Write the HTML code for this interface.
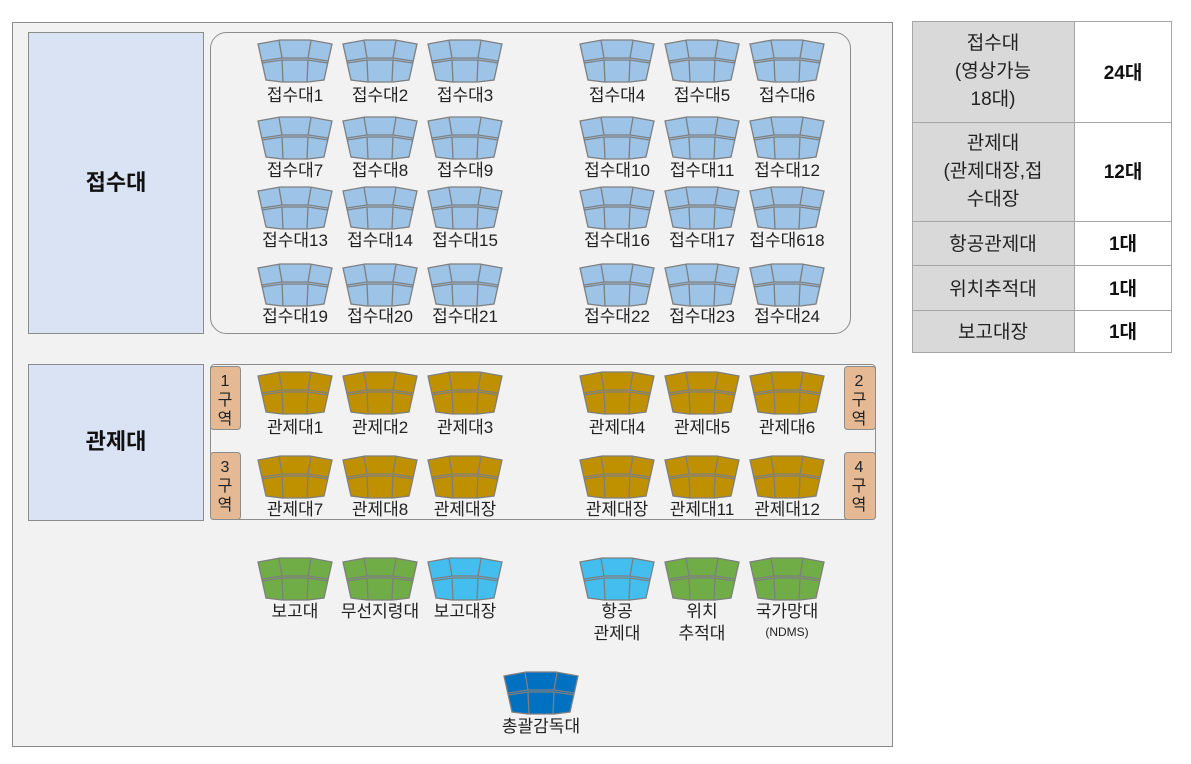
<!DOCTYPE html>
<html><head><meta charset="utf-8"><style>
html,body{margin:0;padding:0;background:#fff}
svg{display:block;font-family:"Liberation Sans","Noto Sans CJK KR",sans-serif}
text{fill:#222}
</style></head><body>
<svg width="1191" height="764" viewBox="0 0 1191 764">
<defs>
<g id="d" stroke="#7f7f7f" stroke-width="1.3">
<polygon points="0,4 22,0 52,0 74,4 66,40 50,42 24,42 8,40"/>
<polyline fill="none" points="4,21 24,18 50,18 70,21"/>
<polyline fill="none" points="4,23 24,20 50,20 70,23"/>
<line x1="21" y1="0.5" x2="24" y2="18"/><line x1="53" y1="0.5" x2="50" y2="18"/>
<line x1="24" y1="20" x2="25" y2="42"/><line x1="50" y1="20" x2="49" y2="42"/>
</g>
</defs>
<rect x="12.5" y="22.5" width="880" height="724" fill="#f2f2f2" stroke="#8c8c8c"/>
<rect x="28.5" y="32.5" width="175" height="301" fill="#dae3f3" stroke="#8c8c8c"/>
<rect x="28.5" y="364.5" width="175" height="156" fill="#dae3f3" stroke="#8c8c8c"/>
<text x="116" y="190" font-size="22" font-weight="bold" text-anchor="middle" style="fill:#111">접수대</text>
<text x="116" y="449" font-size="22" font-weight="bold" text-anchor="middle" style="fill:#111">관제대</text>
<rect x="210.5" y="32.5" width="640" height="301" rx="16" fill="#f2f2f2" stroke="#8c8c8c"/>
<rect x="210.5" y="364.5" width="665" height="155" rx="4" fill="#f2f2f2" stroke="#8c8c8c"/>
<g fill="#e4b993" stroke="#8c8c8c">
<rect x="210.5" y="366.5" width="30" height="63" rx="3"/><rect x="210.5" y="452.5" width="30" height="67" rx="3"/>
<rect x="844.5" y="366.5" width="31" height="63" rx="3"/><rect x="844.5" y="452.5" width="31" height="67" rx="3"/>
</g>
<g font-size="16" text-anchor="middle">
<text x="225" y="386">1</text><text x="225" y="405">구</text><text x="225" y="424">역</text>
<text x="225" y="472">3</text><text x="225" y="491">구</text><text x="225" y="510">역</text>
<text x="859" y="386">2</text><text x="859" y="405">구</text><text x="859" y="424">역</text>
<text x="859" y="472">4</text><text x="859" y="491">구</text><text x="859" y="510">역</text>
</g>
<g fill="#9dc3e6">
<use href="#d" x="258" y="40"/><use href="#d" x="343" y="40"/><use href="#d" x="428" y="40"/><use href="#d" x="580" y="40"/><use href="#d" x="665" y="40"/><use href="#d" x="750" y="40"/>
<use href="#d" x="258" y="117"/><use href="#d" x="343" y="117"/><use href="#d" x="428" y="117"/><use href="#d" x="580" y="117"/><use href="#d" x="665" y="117"/><use href="#d" x="750" y="117"/>
<use href="#d" x="258" y="187"/><use href="#d" x="343" y="187"/><use href="#d" x="428" y="187"/><use href="#d" x="580" y="187"/><use href="#d" x="665" y="187"/><use href="#d" x="750" y="187"/>
<use href="#d" x="258" y="264"/><use href="#d" x="343" y="264"/><use href="#d" x="428" y="264"/><use href="#d" x="580" y="264"/><use href="#d" x="665" y="264"/><use href="#d" x="750" y="264"/>
</g>
<g fill="#bf9000">
<use href="#d" x="258" y="372"/><use href="#d" x="343" y="372"/><use href="#d" x="428" y="372"/><use href="#d" x="580" y="372"/><use href="#d" x="665" y="372"/><use href="#d" x="750" y="372"/>
<use href="#d" x="258" y="456"/><use href="#d" x="343" y="456"/><use href="#d" x="428" y="456"/><use href="#d" x="580" y="456"/><use href="#d" x="665" y="456"/><use href="#d" x="750" y="456"/>
</g>
<use href="#d" x="258" y="558" fill="#70ad47"/><use href="#d" x="343" y="558" fill="#70ad47"/><use href="#d" x="428" y="558" fill="#44bdef"/>
<use href="#d" x="580" y="558" fill="#44bdef"/><use href="#d" x="665" y="558" fill="#70ad47"/><use href="#d" x="750" y="558" fill="#70ad47"/>
<use href="#d" x="504" y="672" fill="#0070c0"/>
<g font-size="17" text-anchor="middle">
<text x="295" y="101">접수대1</text><text x="380" y="101">접수대2</text><text x="465" y="101">접수대3</text><text x="617" y="101">접수대4</text><text x="702" y="101">접수대5</text><text x="787" y="101">접수대6</text>
<text x="295" y="176">접수대7</text><text x="380" y="176">접수대8</text><text x="465" y="176">접수대9</text><text x="617" y="176">접수대10</text><text x="702" y="176">접수대11</text><text x="787" y="176">접수대12</text>
<text x="295" y="246">접수대13</text><text x="380" y="246">접수대14</text><text x="465" y="246">접수대15</text><text x="617" y="246">접수대16</text><text x="702" y="246">접수대17</text><text x="787" y="246">접수대618</text>
<text x="295" y="322">접수대19</text><text x="380" y="322">접수대20</text><text x="465" y="322">접수대21</text><text x="617" y="322">접수대22</text><text x="702" y="322">접수대23</text><text x="787" y="322">접수대24</text>
<text x="295" y="433">관제대1</text><text x="380" y="433">관제대2</text><text x="465" y="433">관제대3</text><text x="617" y="433">관제대4</text><text x="702" y="433">관제대5</text><text x="787" y="433">관제대6</text>
<text x="295" y="515">관제대7</text><text x="380" y="515">관제대8</text><text x="465" y="515">관제대장</text><text x="617" y="515">관제대장</text><text x="702" y="515">관제대11</text><text x="787" y="515">관제대12</text>
<text x="295" y="617">보고대</text><text x="380" y="617">무선지령대</text><text x="465" y="617">보고대장</text>
<text x="617" y="617">항공</text><text x="617" y="639">관제대</text>
<text x="702" y="617">위치</text><text x="702" y="639">추적대</text>
<text x="787" y="617">국가망대</text><text x="787" y="636" font-size="12">(NDMS)</text>
<text x="541" y="732">총괄감독대</text>
</g>
<g stroke="#a6a6a6">
<rect x="912.5" y="21.5" width="162" height="331" fill="#d9d9d9"/>
<rect x="1074.5" y="21.5" width="97" height="331" fill="#fff"/>
<line x1="912" y1="122.5" x2="1172" y2="122.5"/><line x1="912" y1="221.5" x2="1172" y2="221.5"/>
<line x1="912" y1="265.5" x2="1172" y2="265.5"/><line x1="912" y1="310.5" x2="1172" y2="310.5"/>
</g>
<g font-size="19" text-anchor="middle">
<text x="993" y="49">접수대</text><text x="993" y="77">(영상가능</text><text x="993" y="105">18대)</text>
<text x="993" y="149">관제대</text><text x="993" y="177">(관제대장,접</text><text x="993" y="205">수대장</text>
<text x="993" y="250">항공관제대</text><text x="993" y="295">위치추적대</text><text x="993" y="338">보고대장</text>
</g>
<g font-size="19" font-weight="bold" text-anchor="middle">
<text x="1123" y="79" style="fill:#111">24대</text><text x="1123" y="178" style="fill:#111">12대</text>
<text x="1123" y="250" style="fill:#111">1대</text><text x="1123" y="295" style="fill:#111">1대</text><text x="1123" y="338" style="fill:#111">1대</text>
</g>
</svg>
</body></html>
